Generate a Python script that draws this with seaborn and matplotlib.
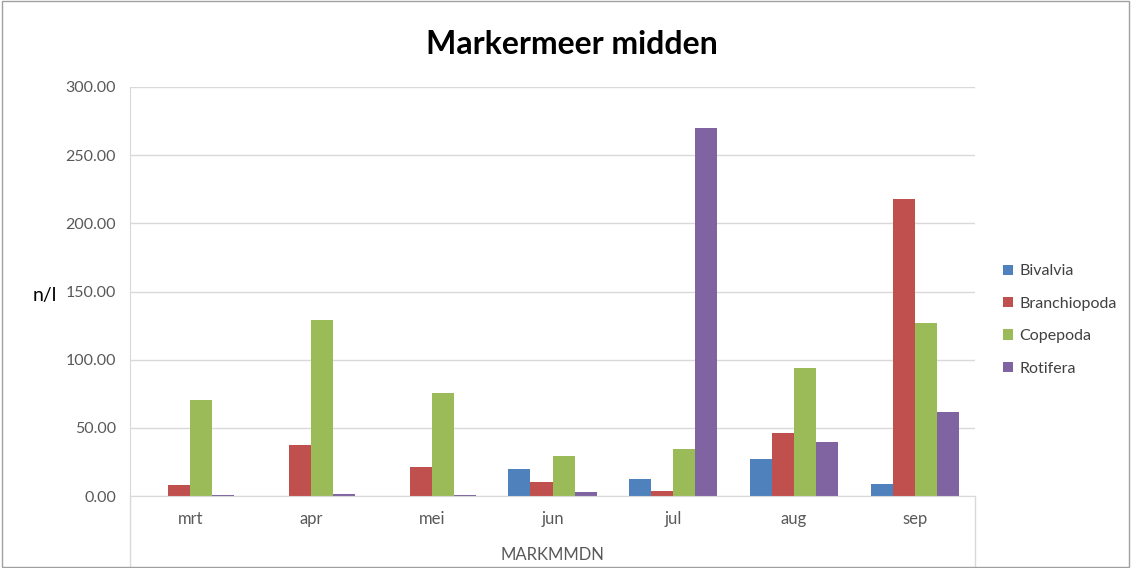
import matplotlib
matplotlib.use("Agg")
import matplotlib.pyplot as plt
from matplotlib.lines import Line2D
import seaborn as sns
import pandas as pd

months = ["mrt", "apr", "mei", "jun", "jul", "aug", "sep"]
bivalvia = [0.0, 0.0, 0.0, 19.6, 12.7, 26.8, 8.8]
branchiopoda = [8.2, 37.6, 21.0, 10.0, 4.0, 46.0, 218.0]
copepoda = [70.6, 129.0, 75.6, 29.4, 34.4, 94.2, 127.2]
rotifera = [1.0, 1.8, 0.8, 2.8, 270.0, 39.8, 61.8]
series_names = ["Bivalvia", "Branchiopoda", "Copepoda", "Rotifera"]
colors = ["#4F81BD", "#C0504D", "#9BBB59", "#8064A2"]
yticks = [0, 50, 100, 150, 200, 250, 300]

rows = []
for name, vals in zip(series_names, [bivalvia, branchiopoda, copepoda, rotifera]):
    for m, v in zip(months, vals):
        rows.append({"month": m, "group": name, "value": v})
df = pd.DataFrame(rows)

sns.set_style("white")
plt.rcParams["font.family"] = ["Lato", "DejaVu Sans"]

fig = plt.figure(figsize=(11.31, 5.68), dpi=100)
ax = fig.add_axes([130/1131, 1 - 496/568, (975-130)/1131, (496-87)/568])

sns.barplot(data=df, x="month", y="value", hue="group", order=months,
            hue_order=series_names, palette=colors, width=0.73, gap=0,
            saturation=1, ax=ax, legend=True, linewidth=0)

ax.set_ylim(0, 300)
ax.set_yticks(yticks)
ax.set_yticklabels([f"{t:.2f}" for t in yticks], fontsize=11.5, color="#595959")
ax.tick_params(axis="x", labelsize=12, labelcolor="#595959", length=0, pad=11)
ax.tick_params(axis="y", length=0, pad=10)
ax.set_xlim(-0.5, len(months) - 0.5)
ax.grid(axis="y", color="#D9D9D9", linewidth=1)
ax.set_axisbelow(True)
for s in ["top", "right"]:
    ax.spines[s].set_visible(False)
ax.spines["left"].set_color("#D9D9D9")
ax.spines["bottom"].set_color("#D9D9D9")

ax.set_xlabel("MARKMMDN", fontsize=12, color="#595959", labelpad=14)
ax.set_ylabel("n/l", fontsize=14, color="#000000", rotation=0, va="center", ha="center")
ax.yaxis.set_label_coords((45 - 130) / 845, (496 - 295) / 409)

# category box lines
ax.add_line(Line2D([0, 0], [0, -72/409], transform=ax.transAxes, color="#D9D9D9", lw=1, clip_on=False))
ax.add_line(Line2D([1, 1], [0, -72/409], transform=ax.transAxes, color="#D9D9D9", lw=1, clip_on=False))

fig.text(572/1131, 1 - 44/568, "Markermeer midden", ha="center", va="center",
         fontsize=23, fontweight="bold", color="#000000")

leg = ax.legend(loc="center left", bbox_to_anchor=(989/1131, 1 - 320/568),
                bbox_transform=fig.transFigure, frameon=False, fontsize=11.5,
                handlelength=0.6, handleheight=0.6, handletextpad=0.4,
                labelspacing=1.15)
for t in leg.get_texts():
    t.set_color("#404040")

fig.add_artist(plt.Rectangle((0.002, 0.002), 0.996, 0.996, transform=fig.transFigure,
                             fill=False, edgecolor="#A0A0A0", lw=1))

fig.savefig("out.png", dpi=100)
